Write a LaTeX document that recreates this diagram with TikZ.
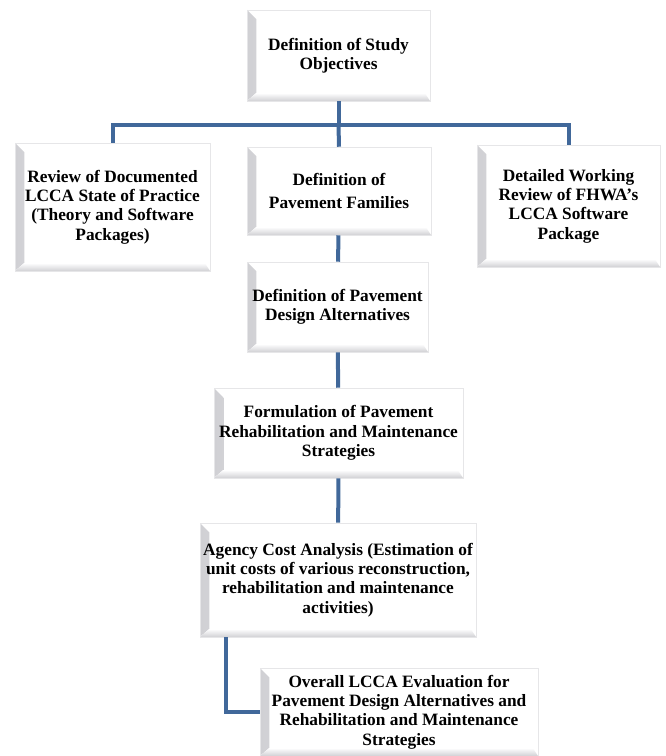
\documentclass[tikz,border=0pt]{standalone}
\usepackage{fontspec}
\setmainfont{Liberation Serif}
\usepackage{tikz}
\usetikzlibrary{positioning,calc}
\definecolor{linkblue}{HTML}{41689A}
\definecolor{bevelgray}{HTML}{D0D0D4}
\definecolor{edgegray}{HTML}{E6E6E8}

\begin{document}
\begin{tikzpicture}[x=0.75pt,y=-0.75pt,
  box/.style 2 args={draw=edgegray,fill=white,align=center,inner sep=0pt,
    font=\fontsize{13}{14.5}\selectfont\bfseries,
    minimum width=0.75*#1pt,minimum height=0.75*#2pt,
    path picture={
      \fill[left color=bevelgray,right color=white]
        (path picture bounding box.south west) -- (path picture bounding box.north west)
        -- ([xshift=7pt,yshift=-7pt]path picture bounding box.north west)
        -- ([xshift=7pt,yshift=6pt]path picture bounding box.south west) -- cycle;
      \fill[top color=white,bottom color=bevelgray]
        (path picture bounding box.south west) -- ([xshift=7pt,yshift=6pt]path picture bounding box.south west)
        -- ([xshift=-4pt,yshift=6pt]path picture bounding box.south east)
        -- (path picture bounding box.south east) -- cycle;
    }},
  link/.style={draw=linkblue,line width=3pt}]
  \useasboundingbox (0,0) rectangle (665,756);

  \node[box={183}{91}] (obj) at (338.5,55.5) {Definition of Study\\Objectives};
  \node[box={195}{128}] (rev) at (112.5,207) {Review of Documented\\LCCA State of Practice\\(Theory and Software\\Packages)};
  \node[box={184}{88}] (fam) at (339,191) {Definition of\\[3pt]Pavement Families};
  \node[box={183}{122}] (fhwa) at (568.5,206) {Detailed Working\\Review of FHWA’s\\LCCA Software\\Package};
  \node[box={181}{90}] (alt) at (337.5,307) {Definition of Pavement\\Design Alternatives};
  \node[box={249}{90}] (form) at (338.5,433) {Formulation of Pavement\\Rehabilitation and Maintenance\\Strategies};
  \node[box={276}{114}] (agency) at (338,580) {Agency Cost Analysis (Estimation of\\unit costs of various reconstruction,\\rehabilitation and maintenance\\activities)};
  \node[box={278}{88}] (eval) at (399,712) {Overall LCCA Evaluation for\\Pavement Design Alternatives and\\Rehabilitation and Maintenance\\Strategies};

  \coordinate (bus) at (338.5,125);
  \draw[link] (obj.south) -- (bus);
  \draw[link] (rev.north) |- (bus) -| (fhwa.north);
  \draw[link] (bus) -- (fam.north);
  \draw[link] (fam) -- (alt);
  \draw[link] (alt) -- (form);
  \draw[link] (form) -- (agency);
  \draw[link] ([xshift=20pt]agency.south west) |- (eval.west);
\end{tikzpicture}
\end{document}
